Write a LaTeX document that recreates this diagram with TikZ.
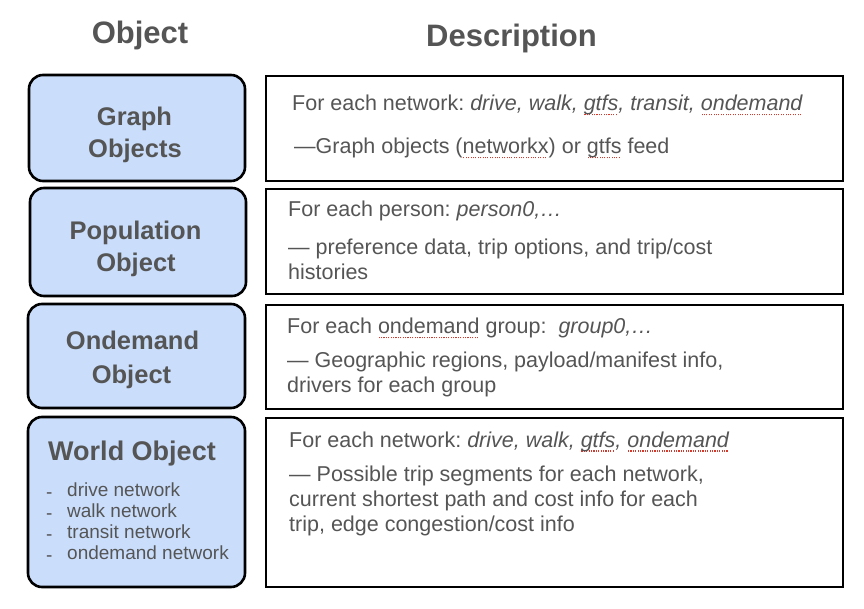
\documentclass[tikz,border=0pt]{standalone}
\usepackage{fontspec}
\setmainfont{Liberation Sans}
\frenchspacing
\definecolor{txt}{HTML}{555555}
\definecolor{boxblue}{HTML}{CADEFC}
\definecolor{squig}{HTML}{D23A2E}
\newcommand\sqw[1]{\leavevmode\setbox0\hbox{#1}\rlap{\raisebox{-4.5pt}{\hbox to \wd0{\color{squig}\leaders\hbox to 2.4pt{\hss\rule{1.1pt}{1.1pt}\hss}\hfill}}}\box0\relax}
\begin{document}
\begin{tikzpicture}[x=1pt,y=-1pt,
  lbox/.style={draw=black, line width=2.6pt, rounded corners=14pt, fill=boxblue, inner sep=0pt},
  rbox/.style={draw=black, line width=1.4pt, inner sep=0pt},
  head/.style={text=txt, font=\fontsize{31}{36}\selectfont\bfseries, inner sep=0pt, anchor=base},
  title/.style={text=txt, font=\fontsize{25.5}{30}\selectfont\bfseries, inner sep=0pt, anchor=base},
  item/.style={text=txt, font=\fontsize{19}{22}\selectfont, inner sep=0pt, anchor=base west},
  desc/.style={text=txt, font=\fontsize{21.5}{25}\selectfont, inner sep=0pt, anchor=base west}]
\useasboundingbox[fill=white] (0,0) rectangle (864,609);
% headers
\node[head] (hobj) at (140,44) {Object};
\node[head] (hdesc) at (511.5,47) {Description};
% left boxes
\node[lbox, minimum width=216pt, minimum height=106pt] (L1) at (137,128) {};
\node[lbox, minimum width=216pt, minimum height=108pt] (L2) at (138,242) {};
\node[lbox, minimum width=217pt, minimum height=104pt] (L3) at (136.5,356) {};
\node[lbox, minimum width=217pt, minimum height=170pt] (L4) at (136.5,502) {};
% right boxes
\node[rbox, minimum width=577pt, minimum height=105pt] (R1) at (554.5,128.5) {};
\node[rbox, minimum width=577pt, minimum height=105pt] (R2) at (554.5,241.5) {};
\node[rbox, minimum width=577pt, minimum height=104pt] (R3) at (554.5,357) {};
\node[rbox, minimum width=577pt, minimum height=169pt] (R4) at (554.5,502.5) {};
% left titles
\node[title] (t1a) at (134.5,126) {Graph};
\node[title] (t1b) at (135,158) {Objects};
\node[title] (t2a) at (135.5,240) {Population};
\node[title] (t2b) at (136,272) {Object};
\node[title] (t3a) at (132.5,349) {Ondemand};
\node[title] (t3b) at (131.5,383) {Object};
\node[title, font=\fontsize{27}{30}\selectfont\bfseries] (t4a) at (132,460) {World Object};
\node[item] (d1) at (46,498) {-};
\node[item] (d2) at (46,519) {-};
\node[item] (d3) at (46,540) {-};
\node[item] (d4) at (46,561) {-};
\node[item] (i1) at (67,496) {drive network};
\node[item] (i2) at (67,517) {walk network};
\node[item] (i3) at (67,538) {transit network};
\node[item] (i4) at (67,559) {ondemand network};
% descriptions
\node[desc] (r1a) at (292,111) {For each network: \textit{drive, walk, \sqw{gtfs}, transit, \sqw{ondemand}}};
\node[desc] (r1b) at (293,154) {\kern1pt---Graph objects (\sqw{networkx}) or \sqw{gtfs} feed};
\node[desc] (r2a) at (288,217) {For each person: \textit{person0,\dots}};
\node[desc] (r2b) at (288,255) {--- preference data, trip options, and trip/cost};
\node[desc] (r2c) at (288,280) {histories};
\node[desc] (r3a) at (287,334) {For each \sqw{ondemand} group:\ \ \textit{group0,\dots}};
\node[desc] (r3b) at (287,367) {--- Geographic regions, payload/manifest info,};
\node[desc] (r3c) at (287,392) {drivers for each group};
\node[desc] (r4a) at (289,447) {For each network: \textit{drive, walk, \sqw{gtfs}, \sqw{ondemand}}};
\node[desc] (r4b) at (289,481) {--- Possible trip segments for each network,};
\node[desc] (r4c) at (289,506) {current shortest path and cost info for each};
\node[desc] (r4d) at (289,531) {trip, edge congestion/cost info};
\end{tikzpicture}
\end{document}
